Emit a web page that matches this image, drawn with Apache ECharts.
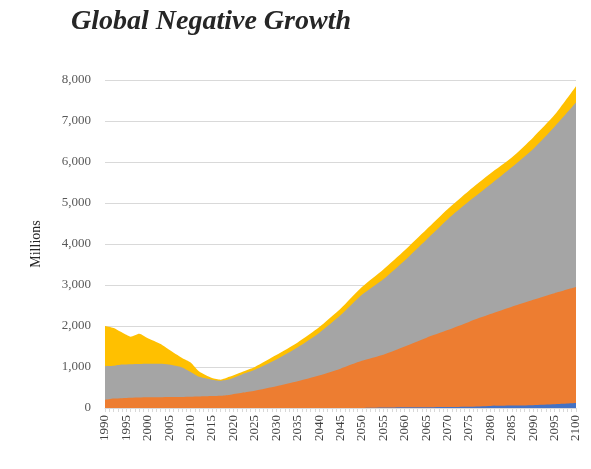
<!DOCTYPE html>
<html>
<head>
<meta charset="utf-8">
<script src="https://cdn.jsdelivr.net/npm/echarts@6/dist/echarts.min.js"></script>
<style>html,body{margin:0;padding:0;background:#fff;}#c{width:591px;height:469px;}</style>
</head>
<body>
<div id="c"></div>
<script>
var years   = [1990,1992,1994,1996,1998,2000,2003,2005,2008,2010,2012,2015,2017,2019,2022,2025,2030,2035,2040,2045,2050,2055,2060,2065,2070,2075,2080,2085,2090,2095,2100];
// stacked layer values (millions)
var blueVals   = [0,0,0,0,0,0,0,0,0,0,0,0,0,0,0,0,0,0,0,0,0,10,20,20,25,30,50,60,70,90,120];
var orangeVals = [200,230,240,250,255,260,265,270,270,275,280,290,300,320,370,420,530,650,790,960,1150,1290,1480,1690,1875,2070,2240,2410,2570,2710,2830];
var grayVals   = [820,800,820,820,820,820,815,790,720,605,480,400,365,380,450,510,650,830,1040,1300,1610,1840,2100,2390,2700,2940,3160,3400,3680,4060,4500];
var yellowVals = [980,920,780,670,735,620,480,360,230,230,130,40,25,60,60,70,110,120,140,160,190,240,250,250,250,260,270,240,280,290,400];
var yTicks = [0,1000,2000,3000,4000,5000,6000,7000,8000];

var layers = [
  { name: 'Blue',   vals: blueVals,   color: '#4472C4' },
  { name: 'Orange', vals: orangeVals, color: '#ED7D31' },
  { name: 'Gray',   vals: grayVals,   color: '#A5A5A5' },
  { name: 'Yellow', vals: yellowVals, color: '#FFC000' }
];
// cumulative tops of each stacked layer
var running = years.map(function(){ return 0; });
layers.forEach(function(L){
  L.top = L.vals.map(function(v,i){ running[i] += v; return running[i]; });
});

var serif = '"Liberation Serif","Times New Roman",serif';
var chart = echarts.init(document.getElementById('c'));
// draw top layer first so lower layers paint over it
var series = layers.slice().reverse().map(function(L, k){
  return {
    name: L.name, type: 'line', z: 2 + k,
    data: years.map(function(y,i){ return [y, L.top[i]]; }),
    symbol: 'none', smooth: 0.2,
    lineStyle: { width: 0, color: L.color },
    areaStyle: { color: L.color, opacity: 1, origin: 'start' },
    itemStyle: { color: L.color }
  };
});
chart.setOption({
  animation: false,
  backgroundColor: '#ffffff',
  title: {
    text: 'Global Negative Growth',
    left: 66, top: 3,
    textStyle: { fontFamily: serif, fontStyle: 'italic', fontWeight: 'bold', fontSize: 28, color: '#262626' }
  },
  grid: { left: 105, right: 15, top: 80, bottom: 61 },
  xAxis: {
    type: 'value', min: 1990, max: 2100, interval: 5,
    axisLine: { show: true, lineStyle: { color: '#d9d9d9' } },
    axisTick: { show: true, length: 4, lineStyle: { color: '#d9d9d9' } },
    minorTick: { show: true, splitNumber: 5, length: 4, lineStyle: { color: '#d9d9d9' } },
    splitLine: { show: false },
    axisLabel: { rotate: 90, fontFamily: serif, fontSize: 13, color: '#404040', margin: 7,
      formatter: function(v){ return String(v); } }
  },
  yAxis: {
    type: 'value', min: yTicks[0], max: yTicks[yTicks.length-1], interval: 1000,
    name: 'Millions', nameLocation: 'middle', nameGap: 62, nameRotate: 90,
    nameTextStyle: { fontFamily: serif, fontSize: 14, color: '#262626' },
    axisLine: { show: false }, axisTick: { show: false },
    splitLine: { lineStyle: { color: '#d9d9d9' } },
    axisLabel: { fontFamily: serif, fontSize: 13, color: '#595959', margin: 14,
      formatter: function(v){ return v.toLocaleString('en-US'); } }
  },
  series: series
});
</script>
</body>
</html>
